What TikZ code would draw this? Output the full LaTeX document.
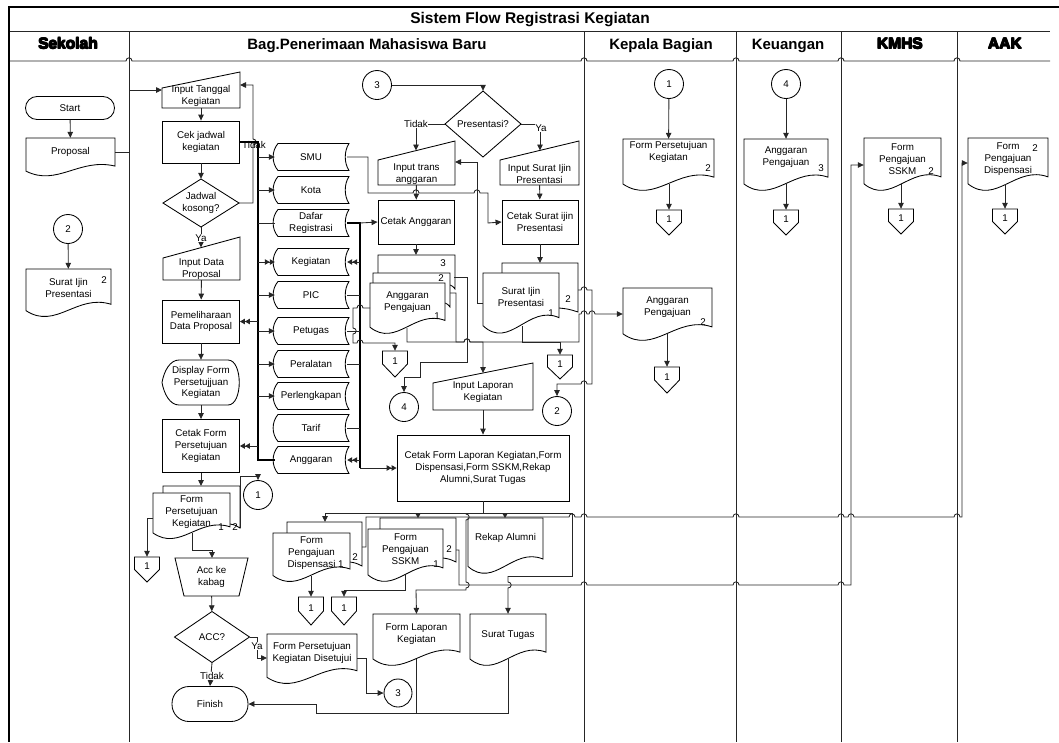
\documentclass[tikz,border=0pt]{standalone}
\usepackage{fontspec}
\setmainfont{Liberation Sans}
\usetikzlibrary{arrows.meta,calc}

% extra-heavy lettering for some lane titles (overprinted bold)
\newcommand\heavy[1]{\leavevmode\rlap{#1}\rlap{\hspace{0.5pt}#1}\rlap{\hspace{0.5pt}\raisebox{0.4pt}{#1}}\rlap{\hspace{1pt}\raisebox{0.2pt}{#1}}\rlap{\raisebox{0.4pt}{#1}}\hspace{1pt}#1}

\tikzset{
  shp/.style={draw=black, line width=0.85pt, fill=white},
  ln/.style={draw=black!85, line width=0.85pt},
  arr/.style={ln, -{Triangle[length=6pt,width=5.5pt]}},
  sarr/.style={ln, -{Triangle[length=4.5pt,width=5pt]}},
  darr/.style={ln, -{Triangle[length=5pt,width=5.5pt]Triangle[length=5pt,width=5.5pt]}},
  bus/.style={draw=black, line width=1.6pt},
  lane/.style={draw=black!85, line width=0.9pt},
  txt/.style={font=\fontsize{9.8}{11.7}\selectfont, align=center, inner sep=0pt},
  num/.style={font=\fontsize{9.8}{11.7}\selectfont, inner sep=0pt},
  lbl/.style={font=\fontsize{9.8}{11.7}\selectfont, inner sep=0.6pt, fill=white},
  proc/.style={shp, rectangle, txt},
  term/.style={shp, rectangle, txt},
  conn/.style={shp, circle, minimum size=29pt, txt},
  hdr/.style={font=\bfseries\fontsize{15}{18}\selectfont, anchor=base, inner sep=0pt},
  hvy/.style={font=\bfseries\fontsize{15.5}{18}\selectfont, anchor=base, inner sep=0pt},
}

% line jumps: horizontal (left to right / right to left) and vertical (down / up)
\newcommand\HJ[2]{-- ({#1-3},#2) .. controls ({#1-3},{#2-4.2}) and ({#1+3},{#2-4.2}) .. ({#1+3},#2)}
\newcommand\HJR[2]{-- ({#1+3},#2) .. controls ({#1+3},{#2-4.2}) and ({#1-3},{#2-4.2}) .. ({#1-3},#2)}
\newcommand\VJ[2]{-- (#1,{#2-3}) .. controls ({#1+4.2},{#2-3}) and ({#1+4.2},{#2+3}) .. (#1,{#2+3})}
\newcommand\VJU[2]{-- (#1,{#2+3}) .. controls ({#1+4.2},{#2+3}) and ({#1+4.2},{#2-3}) .. (#1,{#2-3})}

% document: name, left, top, right, bottom, text y, text
\newcommand\docshape[7]{%
  \draw[shp] (#2,#3) -- (#4,#3) -- (#4,{#3+0.72*(#5-#3)})
    .. controls ({#2+0.6*(#4-#2)},{#3+0.5*(#5-#3)}) and ({#2+0.35*(#4-#2)},{#3+1.25*(#5-#3)})
    .. (#2,{#3+0.85*(#5-#3)}) -- cycle;
  \node[txt, minimum width={#4-#2}, minimum height={2*(#6-#3)}] (#1) at ({(#2+#4)/2},#6) {#7};}
% page behind a multi-document: left, top, right, top of page in front, right of page in front, lower right
\newcommand\backpage[6]{%
  \draw[shp] (#1,#4) -- (#1,#2) -- (#3,#2) -- (#3,#6)
    .. controls ({#3-0.5*(#3-#5)},{#6-3}) .. (#5,{#6-4});}
% manual input: name, left, top left, top right, right, bottom, text y, text
\newcommand\maninput[8]{%
  \draw[shp] (#2,#3) -- (#5,#4) -- (#5,#6) -- (#2,#6) -- cycle;
  \node[txt, minimum width={#5-#2}, minimum height={2*(#6-#7)}] (#1) at ({(#2+#5)/2},#7) {#8};}
% off-page reference: name, centre x, top, bottom
\newcommand\offpage[4]{%
  \draw[shp] ({#2-12.5},#3) -- ({#2+12.5},#3) -- ({#2+12.5},{#3+0.5*(#4-#3)}) -- (#2,#4)
    -- ({#2-12.5},{#3+0.5*(#4-#3)}) -- cycle;
  \node[txt, minimum width=25, minimum height={0.76*(#4-#3)}] (#1) at (#2,{#3+0.38*(#4-#3)}) {1};}
% stored data: name, centre x, centre y, text
\newcommand\stored[4]{%
  \draw[shp] ({#2-33},{#3-13.5}) -- ({#2+38},{#3-13.5})
    .. controls ({#2+33},{#3-6}) and ({#2+33},{#3+6}) .. ({#2+38},{#3+13.5})
    -- ({#2-33},{#3+13.5})
    .. controls ({#2-39.5},{#3+6}) and ({#2-39.5},{#3-6}) .. ({#2-33},{#3-13.5}) -- cycle;
  \node[txt, minimum width=72, minimum height=27] (#1) at (#2,#3) {#4};}
% decision: name, centre x, centre y, width, height, text
\newcommand\decision[6]{%
  \draw[shp] ({#2-#4/2},#3) -- (#2,{#3-#5/2}) -- ({#2+#4/2},#3) -- (#2,{#3+#5/2}) -- cycle;
  \node[txt, minimum width=#4, minimum height=#5] (#1) at (#2,#3) {#6};}

\begin{document}
\begin{tikzpicture}[x=1pt,y=-1pt]
\useasboundingbox (0,0) rectangle (1059,742);

% ---------- frame and swimlanes ----------
\draw[lane] (10,31) -- (1050,31);
\draw[lane] (10,61) \HJ{129}{61} \HJ{584}{61} \HJ{736}{61} \HJ{841}{61} \HJ{957}{61} -- (1050,61);
\foreach \x in {129,584,736,841,957} \draw[lane] (\x,31) -- (\x,742);
\draw[line width=2.6pt] (1059,7) -- (9,7) -- (9,742);

\node[font=\bfseries\fontsize{15.5}{18}\selectfont, anchor=base, inner sep=0pt] (title) at (530,23) {Sistem Flow Registrasi Kegiatan};
\node[hvy] (hSek) at (68,49) {\heavy{Sekolah}};
\node[hdr] (hBag) at (367,49) {Bag.Penerimaan Mahasiswa Baru};
\node[hdr] (hKep) at (661,49) {Kepala Bagian};
\node[hdr] (hKeu) at (788,49) {Keuangan};
\node[hvy] (hKm) at (900,49) {\heavy{KMHS}};
\node[hvy] (hAak) at (1005,49) {\heavy{AAK}};

% ---------- Sekolah ----------
\node[term, minimum width=89, minimum height=23, rounded corners=11.5pt] (start) at (70,108) {Start};
\docshape{prop}{26}{138}{115}{177}{152}{Proposal}
\node[conn] (c2) at (68,229) {2};
\docshape{sij}{26}{269}{111}{318}{288}{Surat Ijin\\Presentasi}
\node[num] (sijn) at (104,280) {2};

% ---------- Bag. Penerimaan Mahasiswa Baru ----------
\maninput{itk}{162}{88}{72}{240}{108}{96}{Input Tanggal\\Kegiatan}
\node[proc, minimum width=77, minimum height=42] (cek) at (201,142) {Cek jadwal\\kegiatan};
\decision{jk}{201}{203}{76}{48}{Jadwal\\kosong?}
\maninput{idp}{163}{258}{237}{240}{280}{269}{Input Data\\Proposal}
\node[proc, minimum width=77, minimum height=43] (pdp) at (201,321.5) {Pemeliharaan\\Data Proposal};
\draw[shp] (162,382.5) .. controls (164,371) and (170,360) .. (179,360) -- (228,360)
  .. controls (243,360) and (243,405) .. (228,405) -- (179,405)
  .. controls (170,405) and (164,394) .. (162,382.5) -- cycle;
\node[txt, minimum width=78, minimum height=45] (dfp) at (201,382.5) {Display Form\\Persetujjuan\\Kegiatan};
\node[proc, minimum width=77, minimum height=53] (cfp) at (201,446) {Cetak Form\\Persetujuan\\Kegiatan};
\backpage{163}{486}{240}{493}{230}{528}
\docshape{fpk}{153}{493}{230}{540}{512}{Form\\Persetujuan\\Kegiatan}
\node[num] (fpkn1) at (221,527) {1};
\node[num] (fpkn2) at (235,527) {2};
\node[conn] (c1a) at (258,495) {1};
\offpage{opa}{147}{557}{582}
\draw[shp] (175,558) -- (248,558) -- (239,596) -- (184,596) -- cycle;
\node[txt, minimum width=73, minimum height=38] (akk) at (211.5,577) {Acc ke\\kabag};
\decision{acc}{212}{637}{75}{51}{ACC?}
\docshape{fpkd}{267}{634}{357}{685}{653}{Form Persetujuan\\Kegiatan Disetujui}
\node[conn, minimum size=28pt] (c3b) at (398,693) {3};
\node[term, minimum width=76, minimum height=35, rounded corners=17pt] (fin) at (210,704) {Finish};

% data stores
\stored{smu}{311}{157}{SMU}
\stored{kota}{311}{190}{Kota}
\stored{dreg}{311}{223}{Dafar\\Registrasi}
\stored{keg}{311}{262}{Kegiatan}
\stored{pic}{311}{295}{PIC}
\stored{ptg}{311}{331}{Petugas}
\stored{per}{311}{364}{Peralatan}
\stored{perl}{311}{396}{Perlengkapan}
\stored{tarif}{311}{428}{Tarif}
\stored{angg}{311}{460}{Anggaran}

% presentation branch
\node[conn] (c3) at (377,85) {3};
\decision{pres}{483}{124}{76}{66}{Presentasi?}
\maninput{ita}{378}{160}{141}{455}{185}{174}{Input trans\\anggaran}
\maninput{isp}{500}{160}{141}{579}{185}{174}{Input Surat Ijin\\Presentasi}
\node[proc, minimum width=76, minimum height=44] (ca) at (416,222) {Cetak Anggaran};
\node[proc, minimum width=76, minimum height=44] (csp) at (540,222) {Cetak Surat ijin\\Presentasi};
\backpage{378}{255}{455}{273}{450}{289}
\backpage{373}{273}{450}{283}{445}{307}
\docshape{ap}{370}{283}{445}{335}{302}{Anggaran\\Pengajuan}
\node[num] (apn3) at (443,263) {3};
\node[num] (apn2) at (441,278) {2};
\node[num] (apn1) at (437,316) {1};
\backpage{502}{263}{578}{273}{559}{312}
\docshape{sip}{483}{273}{559}{335}{297}{Surat Ijin\\Presentasi}
\node[num] (sipn2) at (568,299) {2};
\node[num] (sipn1) at (551,313) {1};
\offpage{opb}{395}{351}{377}
\node[conn] (c4) at (404,407) {4};
\offpage{opc}{560}{355}{379}
\node[conn] (c2b) at (557,411) {2};
\maninput{ilk}{433}{383}{363}{533}{410}{392}{Input Laporan\\Kegiatan}
\node[proc, minimum width=172, minimum height=66] (cfl) at (483,468) {Cetak Form Laporan Kegiatan,Form\\Dispensasi,Form SSKM,Rekap\\Alumni,Surat Tugas};
\backpage{287}{522}{362}{533}{350}{566}
\docshape{fpd}{273}{533}{350}{583}{553}{Form\\Pengajuan\\Dispensasi\rlap{\ 1}}
\node[num] (fpdn2) at (355,557) {2};
\backpage{380}{518}{456}{529}{443}{562}
\docshape{fsk}{368}{529}{443}{583}{549}{Form\\Pengajuan\\SSKM}
\node[num] (fskn1) at (436,564) {1};
\node[num] (fskn2) at (449,549) {2};
\docshape{ra}{468}{518}{543}{575}{538}{Rekap Alumni}
\offpage{opd}{311}{597}{625}
\offpage{ope}{344}{597}{625}
\docshape{flk}{373}{614}{460}{667}{634}{Form Laporan\\Kegiatan}
\docshape{st}{470}{614}{546}{667}{635}{Surat Tugas}

% ---------- Kepala Bagian ----------
\node[conn] (c1k) at (669,84) {1};
\docshape{fpkb}{623}{139}{714}{192}{152}{Form Persetujuan\\Kegiatan}
\node[num] (fpkbn) at (708,168) {2};
\offpage{opk}{669}{210}{235}
\docshape{ap2}{623}{288}{712}{342}{307}{Anggaran\\Pengajuan}
\node[num] (ap2n) at (703,322) {2};
\offpage{opk2}{667}{367}{393}

% ---------- Keuangan ----------
\node[conn] (c4k) at (786,84) {4};
\docshape{ap3}{744}{139}{828}{192}{157}{Anggaran\\Pengajuan}
\node[num] (ap3n) at (821,168) {3};
\offpage{opu}{786}{210}{235}

% ---------- KMHS ----------
\docshape{sskm}{864}{138}{941}{192}{159}{Form\\Pengajuan\\SSKM}
\node[num] (sskmn) at (931,171) {2};
\offpage{opm}{901}{209}{234}

% ---------- AAK ----------
\docshape{fdis}{968}{138}{1048}{192}{159}{Form\\Pengajuan\\Dispensasi}
\node[num] (fdisn) at (1035,148) {2};
\offpage{opx}{1005}{209}{234}

% ---------- connectors ----------
\coordinate (busL) at (258,0);
\coordinate (busR) at (360,0);

\draw[arr] (start) -- (prop);
\draw[arr] (prop.east) -- (129,152) -- (129,90) -- (162,90);
\draw[arr] (c2) -- (sij);

\draw[arr] (itk) -- (cek);
\draw[arr] (cek) -- (jk);
\draw[arr] (jk.east) -- (253,203) \VJU{253}{142} -- (253,85) -- (240,85);
\draw[arr] (jk.south) -- (201,247.5);
\draw[arr] (idp) -- (pdp);
\draw[arr] (pdp) -- (dfp);
\draw[arr] (dfp) -- (cfp);
\draw[arr] (cfp.south) -- (201,486);

% left data bus
\draw[bus] (cek.east) -- (cek.east -| busL) -- (angg.west -| busL) -- (angg.west);
\foreach \n in {smu,kota,pic,ptg,per,perl} \draw[arr] (\n.west -| busL) -- (\n.west);
\draw[ln] (dreg.west -| busL) -- (dreg.west);
\draw[darr] (keg.west -| busL) -- (keg.west);
\draw[darr] (pdp.east -| busL) -- (pdp.east);
\draw[darr] (cfp.east -| busL) -- (cfp.east);

% right data bus
\draw[bus] (dreg.east) -- (dreg.east -| busR) -- (cfl.west -| busR);
\draw[arr] (dreg.east -| busR) -- (ca.west);
\draw[darr] (keg.east -| busR) -- (keg.east);
\foreach \n in {pic,per,tarif} \draw[ln] (\n.east) -- (\n.east -| busR);
\draw[ln] (ptg.east) -- (ptg.east -| busR);
\draw[darr] (angg.east -| busR) -- (angg.east);
\draw[darr] (cfl.west -| busR) -- (cfl.west);

\draw[arr] (smu.east) -- (368,157) -- (368,193) \HJ{416}{193} \HJ{477}{193} -- (488,193) -- (488,223) -- (csp.west);

\draw[arr] (c3.east) -- (c3.east -| pres.north) -- (pres.north);
\draw[arr] (pres.west) -- (416,124) -- (416,150.5);
\draw[arr] (pres.east) -- (540,124) -- (540,150.5);
\draw[arr] (ita) -- (ca);
\draw[arr] (isp) -- (csp);
\draw[arr] (ca) -- (416,255);
\draw[arr] (csp) -- (540,263);

% Anggaran Pengajuan copies
\draw[arr] (407,328) -- (407,342) \HJ{467}{342} -- (483,342) -- (483,373);
\draw[arr] (450,293) -- (456,293) -- (456,342) \HJ{467}{342} -- (579,342) -- (579,314) \HJ{584}{314} \HJ{592}{314} -- (ap2.west |- 0,314);
\draw[arr] (454,277) -- (467,277) -- (467,362) -- (420,362) -- (420,377) -- (404,377) -- (c4.north);
\draw[arr] (370,308) \HJR{360}{308} -- (353,308) \VJ{353}{331} -- (353,343) \HJ{360}{343} -- (395,343) -- (opb.north);

% Surat Ijin Presentasi copies
\draw[arr] (522,326) -- (522,342) -- (560,342) -- (opc.north);
\draw[arr] (578,290) \HJ{584}{290} -- (592,290) -- (592,384) \HJR{584}{384} -- (557,384) -- (c2b.north);
\draw[arr] (483,303) -- (477,303) -- (477,162) -- (455,162);

\draw[arr] (ilk) -- (cfl);

% outputs of the report printing
\draw[ln] (cfl.south) -- (483,513);
\draw[ln] (325,513) -- (572,513) -- (572,576) -- (508,576);
\draw[arr] (325,513) -- (325,522);
\draw[sarr] (418,513) -- (418,518);
\draw[sarr] (505,513) -- (505,518);
\draw[arr] (508,576) \VJ{508}{585} -- (st.north);
\draw[arr] (466,513) \VJ{466}{517} \VJ{466}{585} -- (466,590) -- (416,590) -- (flk.north);
\draw[arr] (362,547) -- (366,547) -- (366,517) \HJ{572}{517} \HJ{584}{517} \HJ{736}{517} \HJ{841}{517} \HJ{851}{517} \HJ{957}{517} -- (962,517) -- (962,163) -- (fdis.west |- 0,163);
\draw[arr] (456,550) -- (459,550) -- (459,585) \HJ{584}{585} \HJ{736}{585} \HJ{841}{585} -- (851,585) -- (851,165) -- (sskm.west |- 0,165);
\draw[arr] (311,576) -- (opd.north);
\draw[arr] (405,575) -- (405,590) -- (344,590) -- (ope.north);
\draw[ln] (416,659) -- (416,713);
\draw[arr] (508,659) -- (508,713) -- (316,713) -- (316,704) -- (fin.east);

% approval
\draw[arr] (240,528) -- (240,476) -- (258,476) -- (c1a.north);
\draw[arr] (153,518) -- (147,518) -- (opa.north);
\draw[arr] (192,533) -- (192,550) -- (212,550) -- (212,558);
\draw[arr] (akk) -- (acc);
\draw[arr] (acc.south) -- (fin.north);
\draw[arr] (acc.east) -- (257,637) -- (257,658) -- (267,658);
\draw[arr] (357,658) -- (366,658) -- (366,693) -- (c3b.west);

% other lanes
\draw[arr] (c1k) -- (fpkb);
\draw[arr] (669,184) -- (opk.north);
\draw[arr] (667,334) -- (opk2.north);
\draw[arr] (c4k) -- (ap3);
\draw[arr] (786,184) -- (opu.north);
\draw[arr] (901,184) -- (opm.north);
\draw[arr] (1005,184) -- (opx.north);

% ---------- branch labels ----------
\node[txt] (lt1) at (254,145) {Tidak};
\node[lbl] (ly1) at (201,238) {Ya};
\node[lbl] (lt2) at (416,124) {Tidak};
\node[lbl] (ly2) at (541,128) {Ya};
\node[lbl] (ly3) at (257,646) {Ya};
\node[lbl] (lt3) at (212,676) {Tidak};
\end{tikzpicture}
\end{document}
